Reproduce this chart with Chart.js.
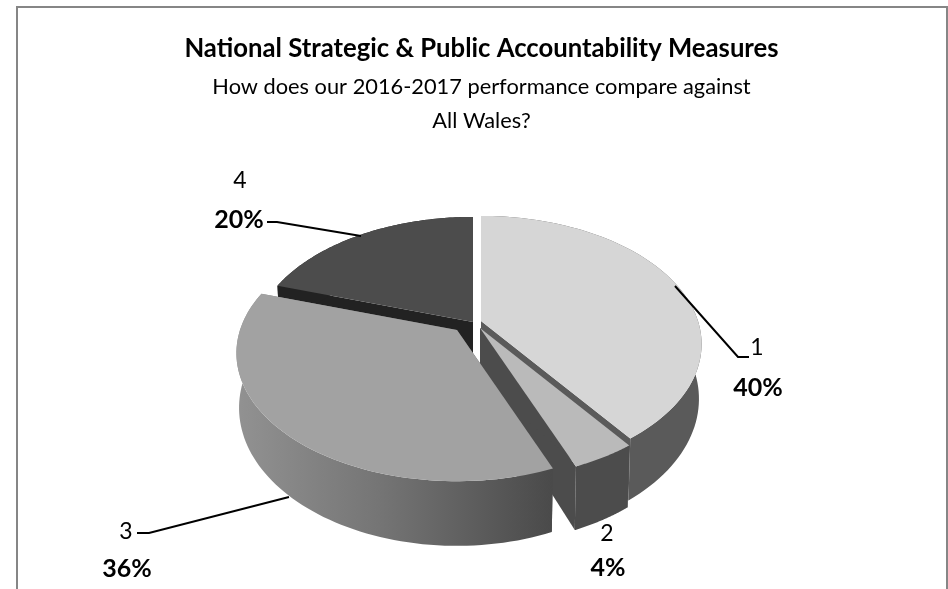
<!DOCTYPE html>
<html>
<head>
<meta charset="utf-8">
<title>National Strategic & Public Accountability Measures</title>
<script src="https://cdn.jsdelivr.net/npm/chart.js@4/dist/chart.umd.min.js"></script>
<style>
    html, body { margin: 0; padding: 0; background: #fff; }
    canvas { display: block; }
</style>
</head>
<body>
<canvas id="pie" width="948" height="589"></canvas>
<script>
const categories = ['1', '2', '3', '4'];
const shares = [40, 4, 36, 20];
const titleText = 'National Strategic & Public Accountability Measures';
const subtitleLines = ['How does our 2016-2017 performance compare against', 'All Wales?'];

const topColors = ['#d6d6d6', '#bababa', '#a2a2a2', '#4c4c4c'];
const wallColors = ['#5a5a5a', '#4c4c4c', null, '#222222'];

// where each exploded slice has its tip on screen
const tips = [[481, 321], [480, 328], [457, 330], [473, 322]];
const radiusX = 217, radiusY = 124, depth = 53, perspective = 0.18;
const paintOrder = [3, 0, 1, 2];

// label text anchors and leader lines per slice
const labelSpots = [
    { name: [757, 348], pct: [758, 388], leader: [[675, 286], [738, 357], [749, 357]] },
    { name: [607, 534], pct: [608, 568], leader: null },
    { name: [126, 532], pct: [127, 569], leader: [[289, 497], [149, 533], [137, 533]] },
    { name: [240, 181], pct: [239, 220], leader: [[361, 236], [277, 222], [267, 222]] }
];

// disc coordinates to screen, z = 0 on top face, z = 1 on bottom face
function project(tip, angle, r, z) {
    const u = Math.cos(angle) * r, v = Math.sin(angle) * r;
    const w = 1 - perspective * v;
    const shrink = 1 - 0.012 * z;
    return [
        tip[0] + radiusX * u * shrink / w,
        tip[1] + (radiusY * v + depth * z) / w
    ];
}

function arcPoints(tip, from, to, z) {
    const pts = [];
    const steps = 80;
    for (let i = 0; i <= steps; i++) {
        pts.push(project(tip, from + (to - from) * i / steps, 1, z));
    }
    return pts;
}

function fillPoly(ctx, pts, fill) {
    ctx.beginPath();
    pts.forEach((p, i) => i ? ctx.lineTo(p[0], p[1]) : ctx.moveTo(p[0], p[1]));
    ctx.closePath();
    ctx.fillStyle = fill;
    ctx.fill();
}

function drawSlice(ctx, el, i) {
    const tip = tips[i];
    const start = el.startAngle, end = el.endAngle;
    let wall = wallColors[i];
    if (!wall) {
        wall = ctx.createLinearGradient(236, 0, 552, 0);
        wall.addColorStop(0, '#929292');
        wall.addColorStop(0.45, '#757575');
        wall.addColorStop(1, '#4a4a4a');
    }

    // cut face along the clockwise edge, then the one along the other edge
    [end, start].forEach(a => {
        fillPoly(ctx, [project(tip, a, 0, 0), project(tip, a, 1, 0), project(tip, a, 1, 1), project(tip, a, 0, 1)], wall);
    });

    // outer wall
    fillPoly(ctx, arcPoints(tip, start, end, 0).concat(arcPoints(tip, end, start, 1)), wall);

    // top face
    fillPoly(ctx, [project(tip, start, 0, 0)].concat(arcPoints(tip, start, end, 0)), topColors[i]);
}

const pie3d = {
    id: 'pie3d',
    beforeDraw(chart) {
        const ctx = chart.ctx;
        ctx.save();
        ctx.strokeStyle = '#868686';
        ctx.lineWidth = 2;
        ctx.beginPath();
        ctx.moveTo(17, 589);
        ctx.lineTo(17, 7);
        ctx.lineTo(947, 7);
        ctx.lineTo(947, 589);
        ctx.stroke();
        ctx.restore();
    },
    beforeDatasetsDraw(chart) {
        const ctx = chart.ctx;
        const arcs = chart.getDatasetMeta(0).data;
        ctx.save();
        paintOrder.forEach(i => drawSlice(ctx, arcs[i], i));
        ctx.restore();
        return false;
    },
    afterDraw(chart) {
        const ctx = chart.ctx;
        ctx.save();
        ctx.textAlign = 'center';
        ctx.textBaseline = 'middle';
        ctx.fillStyle = '#000';
        ctx.strokeStyle = '#000';
        ctx.lineWidth = 2;
        labelSpots.forEach((spot, i) => {
            if (spot.leader) {
                ctx.beginPath();
                spot.leader.forEach((p, j) => j ? ctx.lineTo(p[0], p[1]) : ctx.moveTo(p[0], p[1]));
                ctx.stroke();
            }
            ctx.font = '23px Lato';
            ctx.fillText(categories[i], spot.name[0], spot.name[1]);
            ctx.font = 'bold 25px Lato';
            ctx.fillText(shares[i] + '%', spot.pct[0], spot.pct[1]);
        });
        ctx.restore();
    }
};

new Chart(document.getElementById('pie'), {
    type: 'pie',
    data: {
        labels: categories,
        datasets: [{ data: shares, backgroundColor: topColors, borderWidth: 0 }]
    },
    options: {
        responsive: false,
        animation: false,
        layout: { padding: { top: 25, left: 15 } },
        plugins: {
            legend: { display: false },
            tooltip: { enabled: false },
            title: {
                display: true,
                text: titleText,
                color: '#000',
                font: { family: 'Lato', size: 25.7, weight: 'bold' },
                padding: { top: 8, bottom: 6 }
            },
            subtitle: {
                display: true,
                text: subtitleLines,
                color: '#000',
                font: { family: 'Lato', size: 21.8, weight: 'normal', lineHeight: 1.56 },
                padding: { bottom: 0 }
            }
        }
    },
    plugins: [pie3d]
});
</script>
</body>
</html>
